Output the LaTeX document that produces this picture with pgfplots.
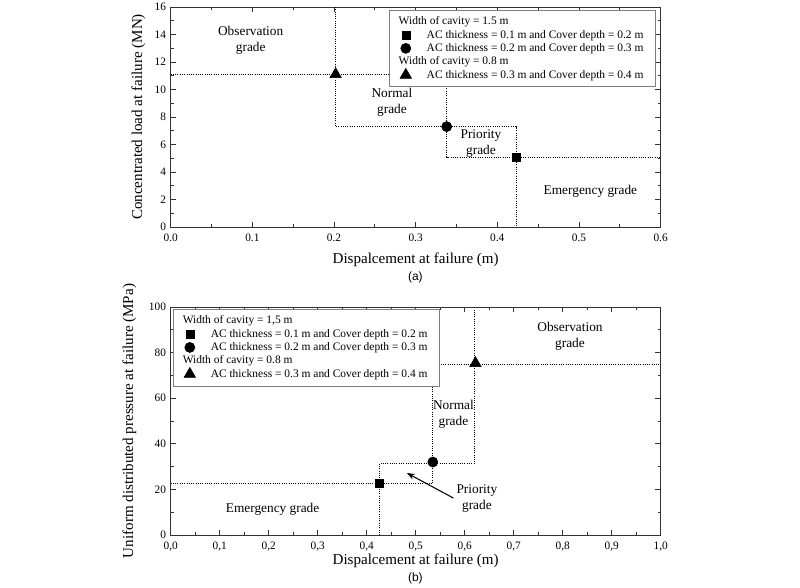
\documentclass[border=0pt]{standalone}
\usepackage{pgfplots}
\pgfplotsset{compat=1.18}
\usepackage{fontspec}
\setmainfont{Liberation Serif}
\newfontfamily\sansf{Liberation Sans}
\usetikzlibrary{arrows.meta}
\tikzset{gradetxt/.style={font=\fontsize{10}{12}\selectfont, align=center}}
\pgfplotsset{
  mystyle/.style={
    scale only axis, width=367.5pt,
    tick align=inside,
    minor x tick num=1, minor y tick num=1,
    major tick length=4pt, minor tick length=2.2pt,
    axis line style={line width=0.7pt, black!80},
    every tick/.style={black!80, line width=0.6pt},
    tick label style={font=\fontsize{8.5}{10}\selectfont},
    xticklabel style={yshift=-2pt},
    label style={font=\fontsize{11.3}{13}\selectfont},
    /pgf/number format/assume math mode=true,
    legend style={font=\fontsize{8.6}{10}\selectfont, draw=black!50, line width=0.4pt,
      inner xsep=7pt, inner ysep=3pt, row sep=-1.5pt},
    legend cell align=left,
    legend image code/.code={\path (0pt,0pt) (19pt,0pt); \draw[##1] plot coordinates {(5.5pt,0pt)};},
  },
  stepline/.style={black, densely dotted, line width=0.7pt, forget plot},
}
\begin{document}
\begin{tikzpicture}
\path[use as bounding box] (0,0) rectangle (600pt,440.25pt);
% ---------------- (a) ----------------
\begin{axis}[mystyle,
  at={(128pt,435pt)}, anchor=north west, height=165pt,
  xmin=0, xmax=0.6, ymin=0, ymax=16,
  xtick={0,0.1,...,0.6}, ytick={0,2,...,16},
  xticklabel style={/pgf/number format/.cd, fixed, fixed zerofill, precision=1},
  xlabel={Dispalcement at failure (m)},
  ylabel={Concentrated load at failure (MN)},
  xlabel style={at={(axis description cs:0.5,-0.15)}, anchor=center},
  ylabel style={at={(axis description cs:-0.066,0.5)}, anchor=center},
  legend style={at={(0.99,0.9875)}, anchor=north east},
]
\addplot[stepline] coordinates {(0,11.1) (0.338,11.1) (0.338,5.08) (0.6,5.08)};
\addplot[stepline] coordinates {(0.202,16) (0.202,7.3) (0.423,7.3) (0.423,0)};
\addlegendimage{empty legend}
\addlegendentry{\hspace{-21pt}Width of cavity = 1.5 m}
\addplot[only marks, mark=square*, mark size=3pt, black] coordinates {(0.423,5.05)};
\addlegendentry{AC thickness = 0.1 m and Cover depth = 0.2 m}
\addplot[only marks, mark=*, mark size=3.8pt, black] coordinates {(0.338,7.3)};
\addlegendentry{AC thickness = 0.2 m and Cover depth = 0.3 m}
\addlegendimage{empty legend}
\addlegendentry{\hspace{-21pt}Width of cavity = 0.8 m}
\addplot[only marks, mark=triangle*, mark size=5pt, black] coordinates {(0.202,11.1)};
\addlegendentry{AC thickness = 0.3 m and Cover depth = 0.4 m}
\node[gradetxt] at (0.098,13.6) {Observation\\grade};
\node[gradetxt] at (0.271,9.05) {Normal\\grade};
\node[gradetxt] at (0.38,6.08) {Priority\\grade};
\node[gradetxt] at (0.514,2.63) {Emergency grade};
\end{axis}
\node[font=\sansf\fontsize{9}{11}\selectfont] at (311.5pt,232.5pt) {(a)};
% ---------------- (b) ----------------
\begin{axis}[mystyle,
  at={(128pt,210pt)}, anchor=north west, height=171pt,
  xmin=0, xmax=1, ymin=0, ymax=100,
  xtick={0,0.1,...,1.0}, ytick={0,20,...,100},
  xticklabel style={/pgf/number format/.cd, fixed, fixed zerofill, precision=1, use comma},
  xlabel={Dispalcement at failure (m)},
  ylabel={Uniform distributed pressure at failure (MPa)},
  xlabel style={at={(axis description cs:0.5,-0.112)}, anchor=center},
  ylabel style={at={(axis description cs:-0.084,0.5)}, anchor=center},
  legend style={at={(0.004,0.992)}, anchor=north west},
]
\addplot[stepline] coordinates {(0,22.5) (0.535,22.5) (0.535,75) (1,75)};
\addplot[stepline] coordinates {(0.426,0) (0.426,31.3) (0.62,31.3) (0.62,100)};
\addlegendimage{empty legend}
\addlegendentry{\hspace{-21pt}Width of cavity = 1,5 m}
\addplot[only marks, mark=square*, mark size=3pt, black] coordinates {(0.426,22.5)};
\addlegendentry{AC thickness = 0.1 m and Cover depth = 0.2 m}
\addplot[only marks, mark=*, mark size=3.8pt, black] coordinates {(0.535,32)};
\addlegendentry{AC thickness = 0.2 m and Cover depth = 0.3 m}
\addlegendimage{empty legend}
\addlegendentry{\hspace{-21pt}Width of cavity = 0.8 m}
\addplot[only marks, mark=triangle*, mark size=5pt, black] coordinates {(0.622,75.3)};
\addlegendentry{AC thickness = 0.3 m and Cover depth = 0.4 m}
\node[gradetxt] at (0.815,87) {Observation\\grade};
\node[gradetxt] at (0.577,53) {Normal\\grade};
\node[gradetxt] at (0.625,15.9) {Priority\\grade};
\node[gradetxt] at (0.208,11.3) {Emergency grade};
\draw[-{Stealth[length=6pt,width=4.5pt]}, line width=0.8pt] (0.577,16.2) -- (0.482,27.2);
\end{axis}
\node[font=\sansf\fontsize{9}{11}\selectfont] at (311.5pt,6.5pt) {(b)};
\end{tikzpicture}
\end{document}
